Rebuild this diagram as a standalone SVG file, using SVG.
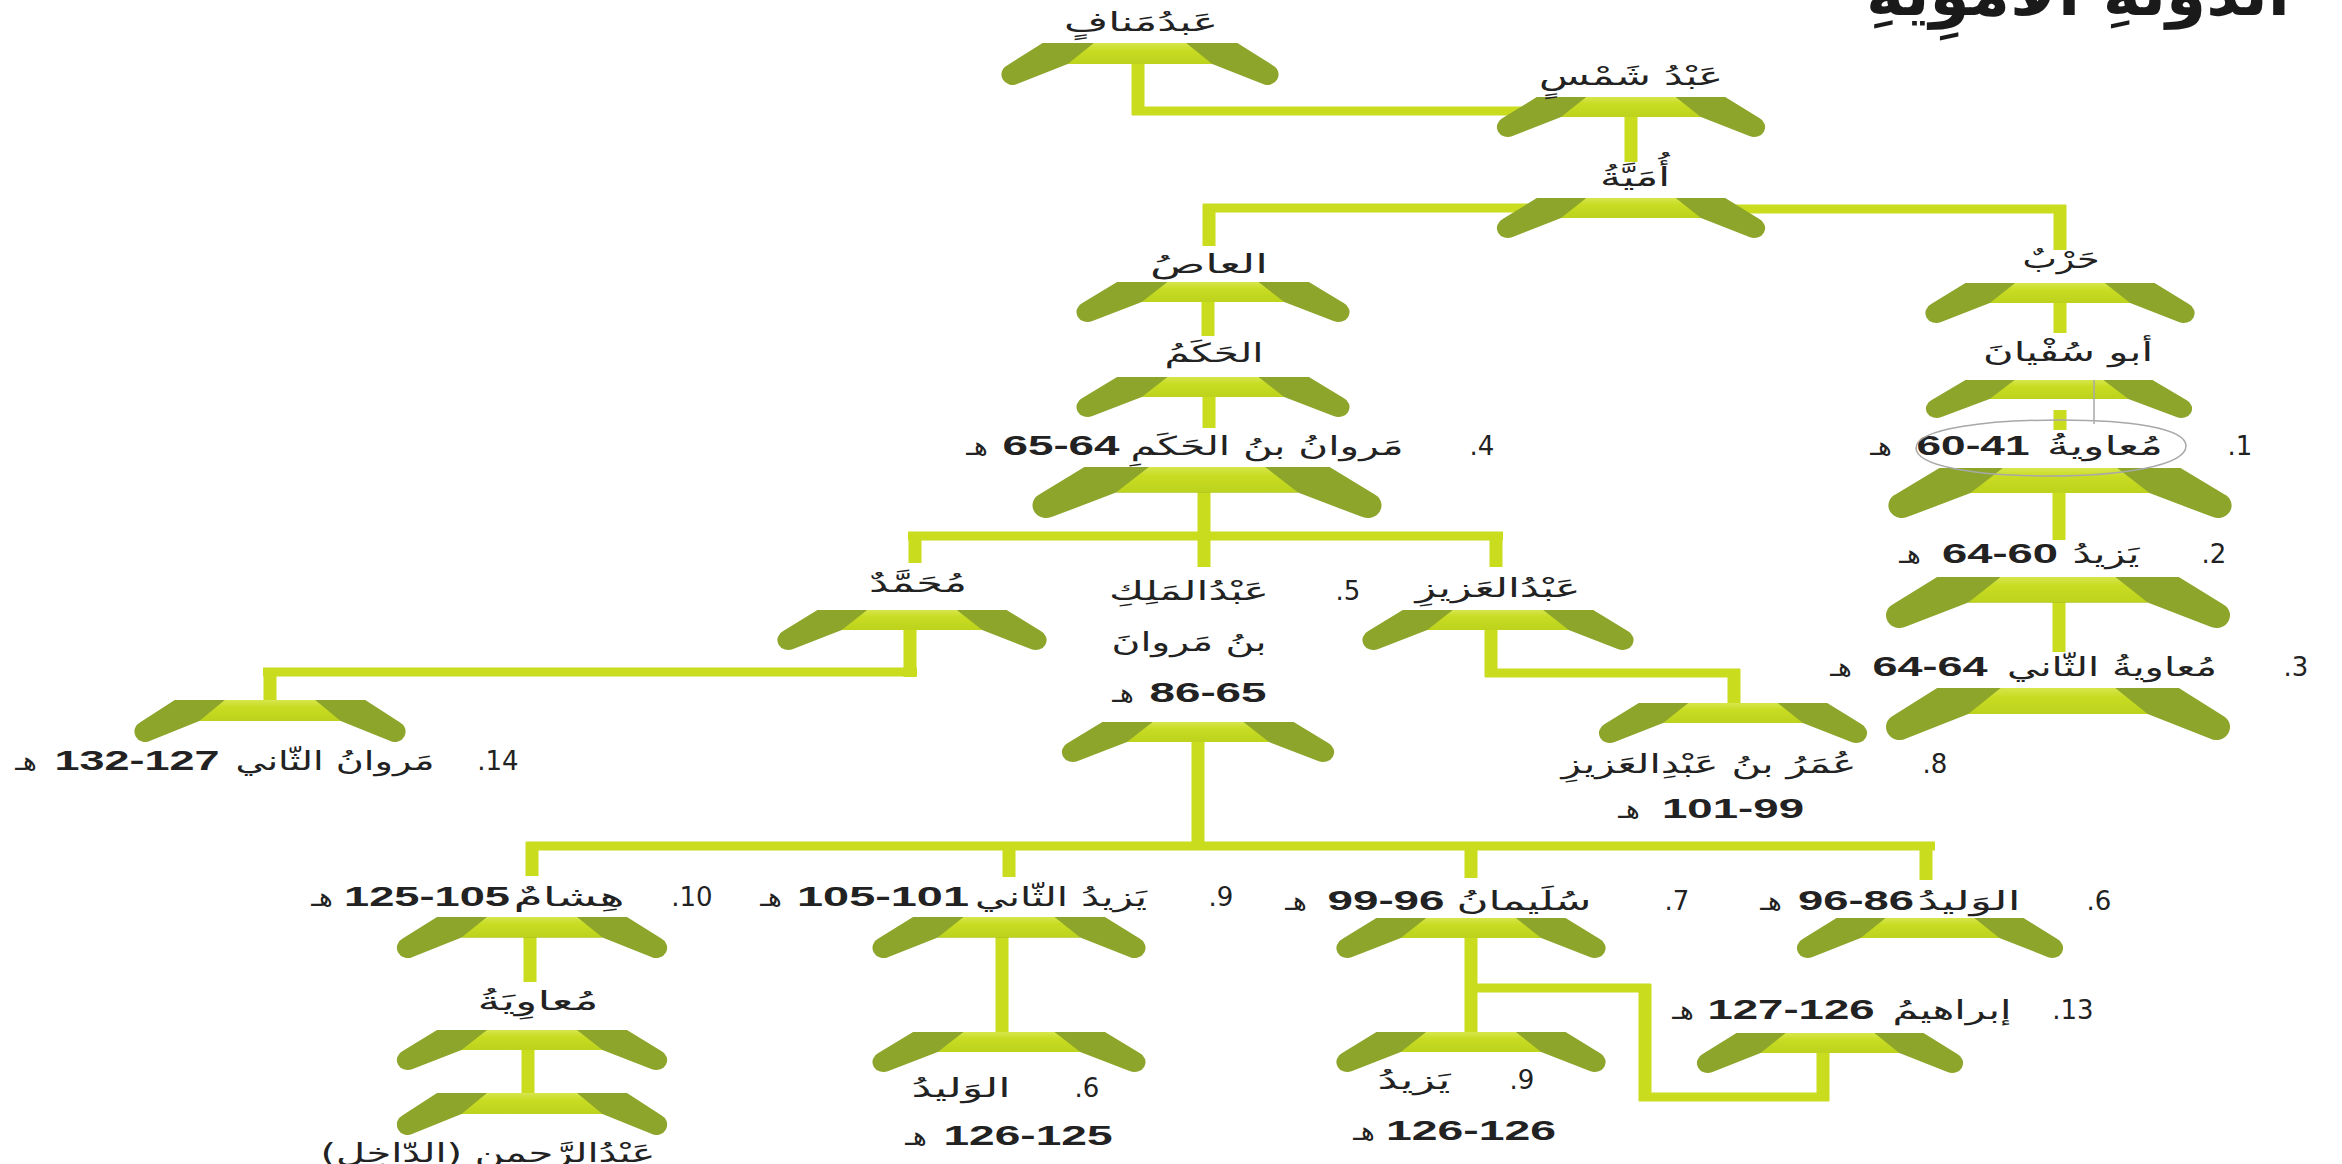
<svg xmlns="http://www.w3.org/2000/svg" width="2342" height="1164" viewBox="0 0 2342 1164">
<style>
.ar{font-family:'DejaVu Sans','Noto Sans',sans-serif;font-size:26px;fill:#222;}
.num{font-family:'Liberation Sans',Arial,sans-serif;font-weight:bold;font-size:27px;fill:#222;}
.title{font-family:'DejaVu Sans',sans-serif;font-weight:bold;font-size:62px;fill:#1a1a1a;}
.dark{fill:#8ca52a;}
.light{fill:url(#lg);}
.con rect{fill:#c9dc1e;}
.note{fill:none;stroke:#a8a8a8;stroke-width:1.5;}
</style>
<defs>
<linearGradient id="lg" x1="0" y1="0" x2="0" y2="1">
<stop offset="0" stop-color="#d6e64c"/>
<stop offset="0.35" stop-color="#c8dc22"/>
<stop offset="1" stop-color="#bcd21c"/>
</linearGradient>
<g id="shp">
<path class="dark" d="M -97 0 L 97 0 L 132.1 23.2 A 11 11 0 0 1 121.9 42.8 L 72 22 L -72 22 L -121.9 42.8 A 11 11 0 0 1 -132.1 23.2 Z"/>
<path class="light" d="M -46 0 L 46 0 L 72 22 L -72 22 Z"/>
</g>
</defs>
<rect width="2342" height="1164" fill="#ffffff"/>

<text class="title" x="2078" y="15" direction="rtl" text-anchor="middle" textLength="424" lengthAdjust="spacingAndGlyphs">الدَّوْلَةِ الأُمَوِيَّةِ</text>

<g id="connectors" class="con">
<rect x="1131.5" y="60" width="13" height="55"/>
<rect x="1132" y="106.5" width="440" height="9"/>
<rect x="1624.5" y="110" width="13" height="52"/>
<rect x="1203" y="203.5" width="428" height="9"/>
<rect x="1202.5" y="204" width="13" height="42"/>
<rect x="1631" y="204.5" width="435" height="9"/>
<rect x="2053.5" y="205" width="13" height="45"/>
<rect x="2053.5" y="300" width="13" height="33"/>
<rect x="2053.5" y="410" width="13" height="20"/>
<rect x="2052.5" y="485" width="13" height="55"/>
<rect x="2052.5" y="594" width="13" height="58"/>
<rect x="1201.5" y="298" width="13" height="38"/>
<rect x="1202.5" y="395" width="13" height="33"/>
<rect x="1197.5" y="488" width="13" height="52"/>
<rect x="908" y="531.5" width="595" height="9"/>
<rect x="908.5" y="532" width="13" height="31"/>
<rect x="1197.5" y="532" width="13" height="35"/>
<rect x="1489.5" y="532" width="13" height="35"/>
<rect x="903.5" y="625" width="13" height="52"/>
<rect x="263" y="667.5" width="654" height="9"/>
<rect x="263.5" y="668" width="13" height="42"/>
<rect x="1484.5" y="625" width="13" height="52"/>
<rect x="1485" y="668.5" width="255" height="9"/>
<rect x="1727.5" y="669" width="13" height="43"/>
<rect x="1191.5" y="740" width="13" height="110"/>
<rect x="526" y="841.5" width="1409" height="9"/>
<rect x="525.5" y="842" width="13" height="34"/>
<rect x="1002.5" y="842" width="13" height="35"/>
<rect x="1464.5" y="842" width="13" height="36"/>
<rect x="1919.5" y="842" width="13" height="38"/>
<rect x="523.5" y="935" width="13" height="47"/>
<rect x="521.5" y="1048" width="13" height="52"/>
<rect x="995.5" y="935" width="13" height="105"/>
<rect x="1464.5" y="935" width="13" height="105"/>
<rect x="1465" y="983.5" width="186" height="9"/>
<rect x="1638.5" y="984" width="13" height="117"/>
<rect x="1639" y="1092.5" width="190" height="9"/>
<rect x="1816.5" y="1050" width="13" height="51"/>
</g>

<g id="n-abdmanaf">
<use href="#shp" transform="translate(1140,43) scale(1.0036,0.9545)"/>
<text class="ar" x="1141" y="31" direction="rtl" text-anchor="middle" textLength="154" lengthAdjust="spacingAndGlyphs">عَبدُمَنافٍ</text>
</g>
<g id="n-abdshams">
<use href="#shp" transform="translate(1631,97) scale(0.9714,0.909)"/>
<text class="ar" x="1631" y="85" direction="rtl" text-anchor="middle" textLength="184" lengthAdjust="spacingAndGlyphs">عَبْدُ شَمْسٍ</text>
</g>
<g id="n-umayya">
<use href="#shp" transform="translate(1631,198) scale(0.9714,0.909)"/>
<text class="ar" x="1635" y="186" direction="rtl" text-anchor="middle" textLength="70" lengthAdjust="spacingAndGlyphs">أُمَيَّةُ</text>
</g>
<g id="n-harb">
<use href="#shp" transform="translate(2060,283) scale(0.975,0.909)"/>
<text class="ar" x="2061" y="268" direction="rtl" text-anchor="middle" textLength="77" lengthAdjust="spacingAndGlyphs">حَرْبٌ</text>
</g>
<g id="n-abusufyan">
<use href="#shp" transform="translate(2059,380) scale(0.964,0.864)"/>
<text class="ar" x="2068" y="361" direction="rtl" text-anchor="middle" textLength="170" lengthAdjust="spacingAndGlyphs">أبو سُفْيانَ</text>
</g>
<g id="n-muawiya1">
<text class="ar" x="2240" y="455" direction="rtl" text-anchor="middle">1.</text>
<text class="ar" x="2105" y="455" direction="rtl" text-anchor="middle" textLength="116" lengthAdjust="spacingAndGlyphs">مُعاويةُ</text>
<text class="num" x="1973" y="455" text-anchor="middle" textLength="113" lengthAdjust="spacingAndGlyphs">60-41</text>
<text class="ar" x="1881" y="455" direction="rtl" text-anchor="middle">هـ</text>
<use href="#shp" transform="translate(2060,468) scale(1.243,1.136)"/>
</g>
<path class="note" d="M 2094 380 L 2094 424 M 1916 448 C 1916 428 1990 420 2060 420 C 2130 420 2186 428 2186 446 C 2186 466 2120 476 2050 476 C 1975 476 1916 466 1916 448 Z"/>
<g id="n-yazid1">
<text class="ar" x="2214" y="563" direction="rtl" text-anchor="middle">2.</text>
<text class="ar" x="2106" y="563" direction="rtl" text-anchor="middle" textLength="67" lengthAdjust="spacingAndGlyphs">يَزيدُ</text>
<text class="num" x="2000" y="563" text-anchor="middle" textLength="116" lengthAdjust="spacingAndGlyphs">64-60</text>
<text class="ar" x="1910" y="563" direction="rtl" text-anchor="middle">هـ</text>
<use href="#shp" transform="translate(2058,577) scale(1.246,1.159)"/>
</g>
<g id="n-muawiya2">
<text class="ar" x="2296" y="676" direction="rtl" text-anchor="middle">3.</text>
<text class="ar" x="2112" y="676" direction="rtl" text-anchor="middle" textLength="210" lengthAdjust="spacingAndGlyphs">مُعاويةُ الثّاني</text>
<text class="num" x="1930" y="676" text-anchor="middle" textLength="115" lengthAdjust="spacingAndGlyphs">64-64</text>
<text class="ar" x="1841" y="676" direction="rtl" text-anchor="middle">هـ</text>
<use href="#shp" transform="translate(2058,688) scale(1.246,1.182)"/>
</g>
<g id="n-aas">
<text class="ar" x="1209" y="273" direction="rtl" text-anchor="middle" textLength="118" lengthAdjust="spacingAndGlyphs">العاصُ</text>
<use href="#shp" transform="translate(1213,282) scale(0.989,0.909)"/>
</g>
<g id="n-hakam">
<text class="ar" x="1214" y="362" direction="rtl" text-anchor="middle" textLength="99" lengthAdjust="spacingAndGlyphs">الحَكَمُ</text>
<use href="#shp" transform="translate(1213,377) scale(0.989,0.909)"/>
</g>
<g id="n-marwan1">
<text class="ar" x="1482" y="455" direction="rtl" text-anchor="middle">4.</text>
<text class="ar" x="1267" y="455" direction="rtl" text-anchor="middle" textLength="273" lengthAdjust="spacingAndGlyphs">مَروانُ بنُ الحَكَمِ</text>
<text class="num" x="1061" y="455" text-anchor="middle" textLength="117" lengthAdjust="spacingAndGlyphs">65-64</text>
<text class="ar" x="977" y="455" direction="rtl" text-anchor="middle">هـ</text>
<use href="#shp" transform="translate(1207,467) scale(1.264,1.159)"/>
</g>
<g id="n-muhammad">
<text class="ar" x="918" y="592" direction="rtl" text-anchor="middle" textLength="98" lengthAdjust="spacingAndGlyphs">مُحَمَّدٌ</text>
<use href="#shp" transform="translate(912,610) scale(0.975,0.909)"/>
</g>
<g id="n-abdalmalik">
<text class="ar" x="1348" y="600" direction="rtl" text-anchor="middle">5.</text>
<text class="ar" x="1189" y="600" direction="rtl" text-anchor="middle" textLength="160" lengthAdjust="spacingAndGlyphs">عَبْدُالمَلِكِ</text>
<text class="ar" x="1189" y="651" direction="rtl" text-anchor="middle" textLength="155" lengthAdjust="spacingAndGlyphs">بنُ مَروانَ</text>
<text class="num" x="1208" y="702" text-anchor="middle" textLength="117" lengthAdjust="spacingAndGlyphs">86-65</text>
<text class="ar" x="1123" y="702" direction="rtl" text-anchor="middle">هـ</text>
<use href="#shp" transform="translate(1198,722) scale(0.986,0.909)"/>
</g>
<g id="n-abdalaziz">
<text class="ar" x="1498" y="597" direction="rtl" text-anchor="middle" textLength="165" lengthAdjust="spacingAndGlyphs">عَبْدُالعَزيزِ</text>
<use href="#shp" transform="translate(1498,610) scale(0.982,0.909)"/>
</g>
<g id="n-marwan2">
<use href="#shp" transform="translate(270,700) scale(0.982,0.955)"/>
<text class="ar" x="498" y="770" direction="rtl" text-anchor="middle">14.</text>
<text class="ar" x="335" y="770" direction="rtl" text-anchor="middle" textLength="199" lengthAdjust="spacingAndGlyphs">مَروانُ الثّاني</text>
<text class="num" x="137" y="770" text-anchor="middle" textLength="165" lengthAdjust="spacingAndGlyphs">132-127</text>
<text class="ar" x="26" y="770" direction="rtl" text-anchor="middle">هـ</text>
</g>
<g id="n-umar">
<use href="#shp" transform="translate(1733,703) scale(0.971,0.909)"/>
<text class="ar" x="1935" y="773" direction="rtl" text-anchor="middle">8.</text>
<text class="ar" x="1709" y="773" direction="rtl" text-anchor="middle" textLength="295" lengthAdjust="spacingAndGlyphs">عُمَرُ بنُ عَبْدِالعَزيزِ</text>
<text class="num" x="1733" y="818" text-anchor="middle" textLength="142" lengthAdjust="spacingAndGlyphs">101-99</text>
<text class="ar" x="1629" y="818" direction="rtl" text-anchor="middle">هـ</text>
</g>
<g id="n-walid1">
<text class="ar" x="2099" y="910" direction="rtl" text-anchor="middle">6.</text>
<text class="ar" x="1969" y="910" direction="rtl" text-anchor="middle" textLength="103" lengthAdjust="spacingAndGlyphs">الوَليدُ</text>
<text class="num" x="1856" y="910" text-anchor="middle" textLength="116" lengthAdjust="spacingAndGlyphs">96-86</text>
<text class="ar" x="1771" y="910" direction="rtl" text-anchor="middle">هـ</text>
<use href="#shp" transform="translate(1930,918) scale(0.964,0.909)"/>
</g>
<g id="n-sulayman">
<text class="ar" x="1677" y="910" direction="rtl" text-anchor="middle">7.</text>
<text class="ar" x="1524" y="910" direction="rtl" text-anchor="middle" textLength="135" lengthAdjust="spacingAndGlyphs">سُلَيمانُ</text>
<text class="num" x="1386" y="910" text-anchor="middle" textLength="117" lengthAdjust="spacingAndGlyphs">99-96</text>
<text class="ar" x="1296" y="910" direction="rtl" text-anchor="middle">هـ</text>
<use href="#shp" transform="translate(1471,918) scale(0.975,0.909)"/>
</g>
<g id="n-yazid2">
<text class="ar" x="1221" y="906" direction="rtl" text-anchor="middle">9.</text>
<text class="ar" x="1061" y="906" direction="rtl" text-anchor="middle" textLength="172" lengthAdjust="spacingAndGlyphs">يَزيدُ الثّاني</text>
<text class="num" x="883" y="906" text-anchor="middle" textLength="172" lengthAdjust="spacingAndGlyphs">105-101</text>
<text class="ar" x="771" y="906" direction="rtl" text-anchor="middle">هـ</text>
<use href="#shp" transform="translate(1009,917) scale(0.989,0.932)"/>
</g>
<g id="n-hisham">
<text class="ar" x="692" y="906" direction="rtl" text-anchor="middle">10.</text>
<text class="ar" x="569" y="906" direction="rtl" text-anchor="middle" textLength="111" lengthAdjust="spacingAndGlyphs">هِشامٌ</text>
<text class="num" x="427" y="906" text-anchor="middle" textLength="166" lengthAdjust="spacingAndGlyphs">125-105</text>
<text class="ar" x="322" y="906" direction="rtl" text-anchor="middle">هـ</text>
<use href="#shp" transform="translate(532,917) scale(0.979,0.932)"/>
</g>
<g id="n-ibrahim">
<text class="ar" x="2073" y="1019" direction="rtl" text-anchor="middle">13.</text>
<text class="ar" x="1952" y="1019" direction="rtl" text-anchor="middle" textLength="119" lengthAdjust="spacingAndGlyphs">إبراهيمُ</text>
<text class="num" x="1791" y="1019" text-anchor="middle" textLength="167" lengthAdjust="spacingAndGlyphs">127-126</text>
<text class="ar" x="1683" y="1019" direction="rtl" text-anchor="middle">هـ</text>
<use href="#shp" transform="translate(1830,1033) scale(0.964,0.909)"/>
</g>
<g id="n-yazid3">
<use href="#shp" transform="translate(1471,1032) scale(0.975,0.909)"/>
<text class="ar" x="1522" y="1089" direction="rtl" text-anchor="middle">9.</text>
<text class="ar" x="1414" y="1089" direction="rtl" text-anchor="middle" textLength="73" lengthAdjust="spacingAndGlyphs">يَزيدُ</text>
<text class="num" x="1471" y="1140" text-anchor="middle" textLength="170" lengthAdjust="spacingAndGlyphs">126-126</text>
<text class="ar" x="1364" y="1140" direction="rtl" text-anchor="middle">هـ</text>
</g>
<g id="n-walid2">
<use href="#shp" transform="translate(1009,1032) scale(0.989,0.909)"/>
<text class="ar" x="1087" y="1097" direction="rtl" text-anchor="middle">6.</text>
<text class="ar" x="961" y="1097" direction="rtl" text-anchor="middle" textLength="99" lengthAdjust="spacingAndGlyphs">الوَليدُ</text>
<text class="num" x="1028" y="1145" text-anchor="middle" textLength="169" lengthAdjust="spacingAndGlyphs">126-125</text>
<text class="ar" x="916" y="1145" direction="rtl" text-anchor="middle">هـ</text>
</g>
<g id="n-muawiya-hisham">
<text class="ar" x="538" y="1010" direction="rtl" text-anchor="middle" textLength="121" lengthAdjust="spacingAndGlyphs">مُعاوِيَةُ</text>
<use href="#shp" transform="translate(532,1030) scale(0.979,0.909)"/>
</g>
<g id="n-abdalrahman">
<use href="#shp" transform="translate(532,1093) scale(0.979,0.955)"/>
<text class="ar" x="488" y="1162" direction="rtl" text-anchor="middle" textLength="335" lengthAdjust="spacingAndGlyphs">عَبْدُالرَّحمنِ (الدّاخِل)</text>
</g>
</svg>
